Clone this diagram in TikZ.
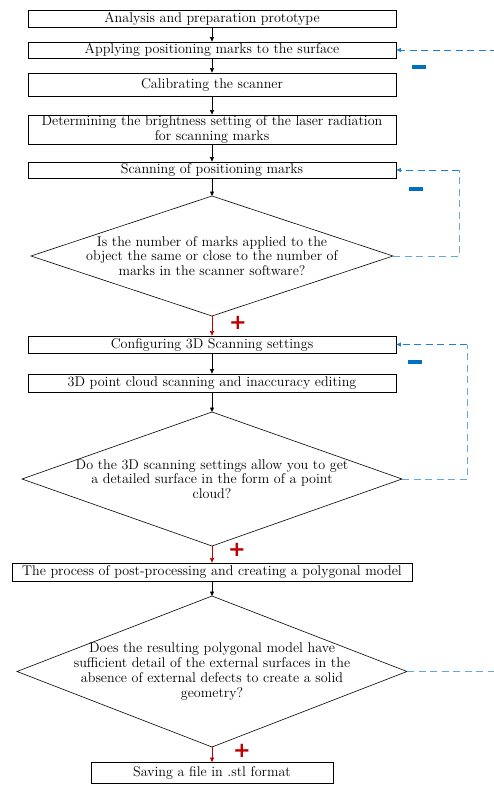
\documentclass[tikz,border=0pt]{standalone}
\usepackage{fontspec}
\newfontfamily\plusfont{DejaVu Sans}
\usetikzlibrary{arrows.meta,shapes.geometric}
\definecolor{dblue}{HTML}{1E7FD6}
\definecolor{lblue}{HTML}{5FA8E0}
\definecolor{mblue}{HTML}{0070C0}
\definecolor{dred}{HTML}{C00000}
\begin{document}
\begin{tikzpicture}[x=1pt,y=-1pt,
  txt/.style={font=\fontsize{14.1}{14.8}\selectfont},
  box/.style={draw,line width=0.8pt,txt,align=center,inner sep=0pt},
  arr/.style={-{Triangle[length=4.5pt,width=4pt]},line width=0.6pt},
  redarr/.style={-{Triangle[length=4.5pt,width=4pt]},line width=0.6pt,dred},
  fb/.style={dashed,dash pattern=on 7pt off 4.5pt,line width=0.8pt,dblue},
  fbarr/.style={fb,-{Triangle[length=4.5pt,width=4pt]}},
  minus/.style={fill=mblue,draw=none,minimum width=14pt,minimum height=4pt,inner sep=0pt},
  plus/.style={text=dred,font=\plusfont\bfseries\fontsize{21}{21}\selectfont,inner sep=0pt}
]
\useasboundingbox (0,0) rectangle (494,785);
\clip (0,0) rectangle (494,785);
% boxes
\node[box,minimum width=368pt,minimum height=17pt] (b1) at (212,18.5) {Analysis and preparation prototype};
\node[box,minimum width=368pt,minimum height=16pt] (b2) at (212,50) {Applying positioning marks to the surface};
\node[box,minimum width=368pt,minimum height=23pt] (b3) at (212,84.5) {Calibrating the scanner};
\node[box,minimum width=368pt,minimum height=29pt] (b4) at (212,129.5) {Determining the brightness setting of the laser radiation\\for scanning marks};
\node[box,minimum width=368pt,minimum height=16pt] (b5) at (212,170) {Scanning of positioning marks};
% diamond 1
\coordinate (d1c) at (212,256);
\draw[line width=0.6pt] (212,196) coordinate (d1t) -- (393,256) coordinate (d1r) -- (212,316) coordinate (d1b) -- (31,256) coordinate (d1l) -- cycle;
\node[txt,align=center] (d1) at (d1c) {Is the number of marks applied to the\\object the same or close to the number of\\marks in the scanner software?};
\node[box,minimum width=368pt,minimum height=17pt] (b6) at (212,344.5) {Configuring 3D Scanning settings};
\node[box,minimum width=368pt,minimum height=18pt] (b7) at (212,383) {3D point cloud scanning and inaccuracy editing};
% diamond 2
\coordinate (d2c) at (212,479);
\draw[line width=0.6pt] (212,412) coordinate (d2t) -- (402,479) coordinate (d2r) -- (212,546) coordinate (d2b) -- (22,479) coordinate (d2l) -- cycle;
\node[txt,align=center] (d2) at (d2c) {Do the 3D scanning settings allow you to get\\a detailed surface in the form of a point\\cloud?};
\node[box,minimum width=400pt,minimum height=18pt] (b8) at (212,572) {The process of post-processing and creating a polygonal model};
% diamond 3
\coordinate (d3c) at (212,671.5);
\draw[line width=0.6pt] (212,596) coordinate (d3t) -- (407,671.5) coordinate (d3r) -- (212,747) coordinate (d3b) -- (17,671.5) coordinate (d3l) -- cycle;
\node[txt,align=center] (d3) at (d3c) {Does the resulting polygonal model have\\sufficient detail of the external surfaces in the\\absence of external defects to create a solid\\geometry?};
\node[box,minimum width=242pt,minimum height=21pt] (b9) at (212,773) {Saving a file in .stl format};
% black arrows
\draw[arr] (b1.south) -- (b2.north);
\draw[arr] (b2.south) -- (b3.north);
\draw[arr] (b3.south) -- (b4.north);
\draw[arr] (b4.south) -- (b5.north);
\draw[arr] (b5.south) -- (d1t);
\draw[arr] (b6.south) -- (b7.north);
\draw[arr] (b7.south) -- (d2t);
\draw[arr] (b8.south) -- (d3t);
% red arrows
\draw[redarr] (d1b) -- (b6.north);
\draw[redarr] (d2b) -- (b8.north);
\draw[redarr] (d3b) -- (b9.north);
\node[plus] (p1) at (238,323) {+};
\node[plus] (p2) at (237,550) {+};
\node[plus] (p3) at (242,751) {+};
% feedback
\coordinate (c1) at (459,256);
\coordinate (c1t) at (459,170);
\draw[fb,lblue] (d1r) -- (c1) -- (c1t);
\draw[fbarr] (c1t) -- (b5.east);
\coordinate (c2) at (467,479);
\coordinate (c2t) at (467,344.5);
\draw[fb,lblue] (d2r) -- (c2) -- (c2t);
\draw[fbarr] (c2t) -- (b6.east);
\coordinate (c3) at (520,671.5);
\coordinate (c3t) at (520,50);
\draw[fb,lblue] (d3r) -- (c3) -- (c3t);
\draw[fbarr] (c3t) -- (b2.east);
\node[minus] (m1) at (419,67) {};
\node[minus] (m2) at (415.5,189) {};
\node[minus] (m3) at (414.5,362) {};
\end{tikzpicture}
\end{document}
